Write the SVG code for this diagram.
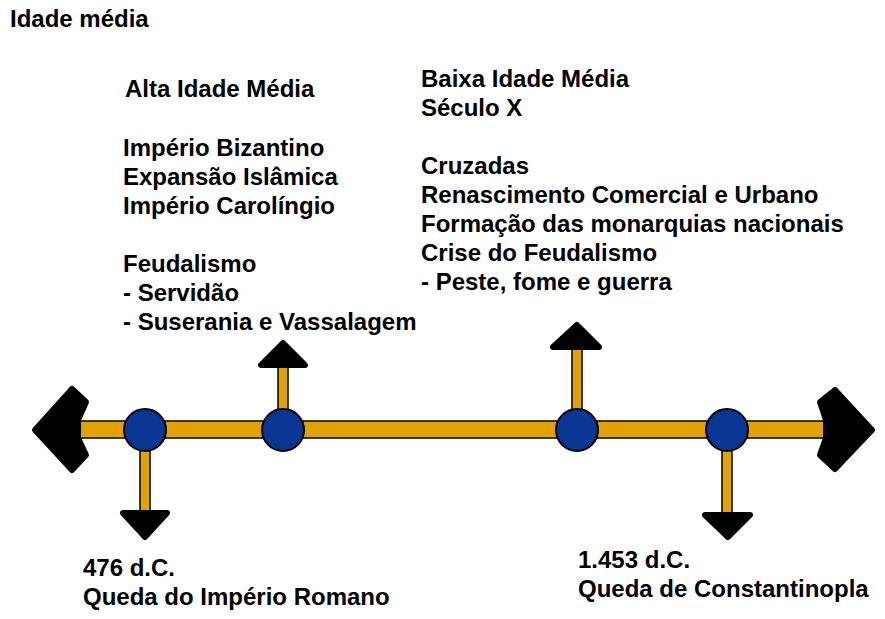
<svg xmlns="http://www.w3.org/2000/svg" width="885" height="619" viewBox="0 0 885 619">
<style>
text{font-family:"Liberation Sans",Arial,sans-serif;font-weight:bold;font-size:24px;fill:#000}
.bar{fill:#e2a200;stroke:#000;stroke-width:1.5}
.head{fill:#000;stroke:#000;stroke-width:6;stroke-linejoin:round}
.node{fill:#0b3592;stroke:#000;stroke-width:2}
</style>
<rect width="885" height="619" fill="#fff"/>
<text x="10" y="27">Idade média</text>
<g id="connectors">
<rect class="bar" x="78" y="421" width="748" height="17"/>
<rect class="bar" x="140" y="430" width="10" height="84"/>
<rect class="bar" x="278" y="364" width="10" height="56"/>
<rect class="bar" x="572" y="346" width="10" height="74"/>
<rect class="bar" x="722" y="430" width="10" height="86"/>
<polygon class="head" points="35,430 72,389 86,402 78,420 78,438 86,455 72,470"/>
<polygon class="head" points="872,430 835,390 820,402 826,420 826,438 820,455 835,469"/>
<polygon class="head" points="123,513 167,513 145,537"/>
<polygon class="head" points="261,365 305,365 283,343"/>
<polygon class="head" points="553,347 599,347 577,325"/>
<polygon class="head" points="705,515 750,515 728,537"/>
</g>
<g id="n1"><circle class="node" cx="145" cy="430" r="21"/></g>
<g id="n2"><circle class="node" cx="283" cy="430" r="21"/></g>
<g id="n3"><circle class="node" cx="577" cy="430" r="21"/></g>
<g id="n4"><circle class="node" cx="727" cy="430" r="21"/></g>
<g id="alta">
<text x="125" y="97">Alta Idade Média</text>
<text x="123" y="156">Império Bizantino</text>
<text x="123" y="185">Expansão Islâmica</text>
<text x="123" y="214">Império Carolíngio</text>
<text x="123" y="272">Feudalismo</text>
<text x="123" y="301">- Servidão</text>
<text x="123" y="330">- Suserania e Vassalagem</text>
</g>
<g id="baixa">
<text x="421" y="87">Baixa Idade Média</text>
<text x="421" y="116">Século X</text>
<text x="421" y="174">Cruzadas</text>
<text x="421" y="203">Renascimento Comercial e Urbano</text>
<text x="421" y="232">Formação das monarquias nacionais</text>
<text x="421" y="261">Crise do Feudalismo</text>
<text x="421" y="290">- Peste, fome e guerra</text>
</g>
<g id="inicio">
<text x="83" y="576">476 d.C.</text>
<text x="83" y="605">Queda do Império Romano</text>
</g>
<g id="fim">
<text x="578" y="568">1.453 d.C.</text>
<text x="578" y="597">Queda de Constantinopla</text>
</g>
</svg>
